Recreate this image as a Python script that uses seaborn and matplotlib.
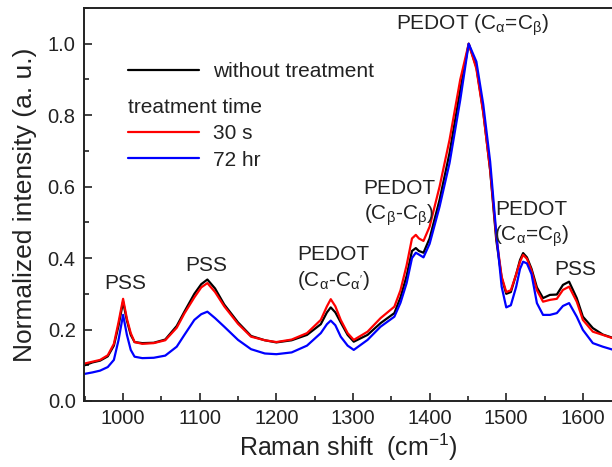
import numpy as np
import pandas as pd
import matplotlib
matplotlib.use("Agg")
import matplotlib.pyplot as plt
import seaborn as sns
from matplotlib.ticker import MultipleLocator

wavenumber = [950, 960, 970, 980, 988, 994, 1000, 1005, 1010, 1015, 1025, 1040, 1055, 1070,
              1080, 1093, 1102, 1110, 1120, 1132, 1150, 1167, 1185, 1200, 1220, 1240, 1258,
              1266, 1271, 1277, 1284, 1293, 1301, 1319, 1336, 1354, 1362, 1370, 1377, 1382,
              1386, 1392, 1400, 1413, 1426, 1440, 1451, 1461, 1470, 1479, 1487, 1494, 1500,
              1506, 1513, 1518, 1522, 1527, 1533, 1540, 1548, 1557, 1566, 1574, 1582, 1592,
              1600, 1613, 1626, 1640]

without_treatment = [0.100, 0.108, 0.113, 0.125, 0.155, 0.210, 0.278, 0.225, 0.185, 0.165,
                     0.162, 0.163, 0.172, 0.210, 0.250, 0.300, 0.327, 0.340, 0.315, 0.270,
                     0.220, 0.182, 0.170, 0.164, 0.170, 0.185, 0.215, 0.248, 0.262, 0.248,
                     0.220, 0.185, 0.166, 0.185, 0.218, 0.246, 0.290, 0.350, 0.420, 0.428,
                     0.420, 0.415, 0.455, 0.563, 0.694, 0.871, 1.000, 0.935, 0.810, 0.645,
                     0.450, 0.345, 0.300, 0.305, 0.355, 0.395, 0.414, 0.402, 0.370, 0.318,
                     0.288, 0.297, 0.298, 0.325, 0.334, 0.288, 0.236, 0.204, 0.186, 0.176]

t_30s = [0.105, 0.110, 0.115, 0.128, 0.160, 0.220, 0.286, 0.230, 0.190, 0.165,
         0.160, 0.162, 0.170, 0.205, 0.245, 0.290, 0.318, 0.330, 0.305, 0.265,
         0.216, 0.180, 0.170, 0.165, 0.172, 0.190, 0.227, 0.265, 0.285, 0.265,
         0.227, 0.190, 0.171, 0.194, 0.232, 0.264, 0.310, 0.380, 0.455, 0.465,
         0.455, 0.448, 0.488, 0.600, 0.731, 0.900, 1.000, 0.930, 0.806, 0.647,
         0.460, 0.348, 0.305, 0.310, 0.355, 0.390, 0.409, 0.398, 0.365, 0.310,
         0.278, 0.283, 0.286, 0.311, 0.320, 0.278, 0.227, 0.194, 0.185, 0.175]

t_72hr = [0.076, 0.080, 0.085, 0.095, 0.115, 0.170, 0.241, 0.185, 0.143, 0.124,
          0.120, 0.121, 0.127, 0.152, 0.185, 0.227, 0.243, 0.250, 0.232, 0.208,
          0.171, 0.145, 0.133, 0.131, 0.136, 0.155, 0.190, 0.215, 0.225, 0.212,
          0.180, 0.155, 0.143, 0.171, 0.208, 0.236, 0.275, 0.330, 0.400, 0.415,
          0.410, 0.402, 0.440, 0.544, 0.666, 0.843, 1.000, 0.950, 0.830, 0.670,
          0.470, 0.320, 0.262, 0.268, 0.320, 0.370, 0.390, 0.385, 0.355, 0.274,
          0.241, 0.241, 0.246, 0.266, 0.274, 0.236, 0.199, 0.162, 0.152, 0.143]

series_labels = ["without treatment", "30 s", "72 hr"]
series_colors = ["#000000", "#ff0000", "#0000ff"]
x_ticks = [1000, 1100, 1200, 1300, 1400, 1500, 1600]
y_ticks = [0.0, 0.2, 0.4, 0.6, 0.8, 1.0]

sns.set_theme(style="white")
plt.rcParams["font.family"] = ["Liberation Sans", "DejaVu Sans"]
plt.rcParams["mathtext.fontset"] = "custom"
plt.rcParams["mathtext.rm"] = "Liberation Sans"
plt.rcParams["mathtext.it"] = "Liberation Sans"
plt.rcParams["mathtext.bf"] = "Liberation Sans:bold"

df = pd.DataFrame({
    "shift": wavenumber * 3,
    "intensity": without_treatment + t_30s + t_72hr,
    "series": [series_labels[0]] * len(wavenumber) + [series_labels[1]] * len(wavenumber)
              + [series_labels[2]] * len(wavenumber),
})

fig = plt.figure(figsize=(6.12, 4.67), dpi=100)
ax = fig.add_axes([84 / 612, 1 - 401 / 467, (612 - 84) / 612, (401 - 8) / 467])

for lab, col in zip(series_labels, series_colors):
    sub = df[df["series"] == lab]
    sns.lineplot(data=sub, x="shift", y="intensity", color=col, lw=1.6,
                 ax=ax, legend=False, label=lab, sort=False)

ax.set_xlim(949, 1638)
ax.set_ylim(0, 1.1)
ax.set_xticks(x_ticks)
ax.set_yticks(y_ticks)
ax.set_yticklabels([f"{v:.1f}" for v in y_ticks])
ax.xaxis.set_minor_locator(MultipleLocator(50))
ax.yaxis.set_minor_locator(MultipleLocator(0.1))
ax.tick_params(which="major", direction="in", length=6, width=1.2, labelsize=14.5,
               color="#222222", labelcolor="#222222", bottom=True, left=True, pad=6)
ax.tick_params(which="minor", direction="in", length=3.5, width=1.2, color="#222222",
               bottom=True, left=True)
for side in ["left", "bottom", "top"]:
    ax.spines[side].set_visible(True)
    ax.spines[side].set_color("#222222")
    ax.spines[side].set_linewidth(1.4)
ax.spines["right"].set_visible(False)

ax.set_xlabel(r"Raman shift  (cm$^{\mathrm{-1}}$)", fontsize=18, color="#222222", labelpad=2)
ax.set_ylabel("Normalized intensity (a. u.)", fontsize=19, color="#222222", labelpad=8)

tc = "#222222"
fs = 15
ax.text(1003, 0.328, "PSS", ha="center", va="center", fontsize=fs, color=tc)
ax.text(1108, 0.38, "PSS", ha="center", va="center", fontsize=fs, color=tc)
ax.text(1274, 0.41, "PEDOT", ha="center", va="center", fontsize=fs, color=tc)
ax.text(1274, 0.336, r"(C$_{\alpha}$-C$_{\alpha'}$)", ha="center", va="center", fontsize=fs, color=tc)
ax.text(1360, 0.595, "PEDOT", ha="center", va="center", fontsize=fs, color=tc)
ax.text(1360, 0.52, r"(C$_{\beta}$-C$_{\beta}$)", ha="center", va="center", fontsize=fs, color=tc)
ax.text(1533, 0.535, "PEDOT", ha="center", va="center", fontsize=fs, color=tc)
ax.text(1533, 0.46, r"(C$_{\alpha}$=C$_{\beta}$)", ha="center", va="center", fontsize=fs, color=tc)
ax.text(1590, 0.368, "PSS", ha="center", va="center", fontsize=fs, color=tc)
ax.text(1456, 1.053, r"PEDOT (C$_{\alpha}$=C$_{\beta}$)", ha="center", va="center", fontsize=fs, color=tc)

lines = ax.get_lines()
leg1 = ax.legend([lines[0]], [series_labels[0]], loc="upper left",
                 bbox_to_anchor=(128 / 612, 1 - 62 / 467), bbox_transform=fig.transFigure,
                 frameon=False, fontsize=fs, handlelength=3.4, handletextpad=0.7,
                 borderpad=0, borderaxespad=0)
for t in leg1.get_texts():
    t.set_color(tc)
ax.add_artist(leg1)
leg2 = ax.legend([lines[1], lines[2]], series_labels[1:], loc="upper left",
                 bbox_to_anchor=(128 / 612, 1 - 98 / 467), bbox_transform=fig.transFigure,
                 frameon=False, fontsize=fs, handlelength=3.4, handletextpad=0.7,
                 borderpad=0, borderaxespad=0, title="treatment time",
                 title_fontsize=fs, alignment="left", labelspacing=0.35)
leg2.get_title().set_color(tc)
for t in leg2.get_texts():
    t.set_color(tc)

fig.savefig("out.png", dpi=100)
